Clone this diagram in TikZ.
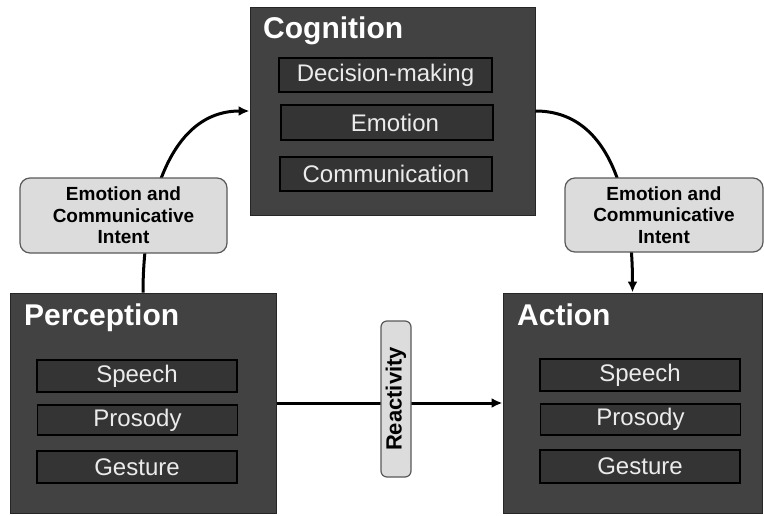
\documentclass[tikz,border=0pt]{standalone}
\usepackage{fontspec}
\setmainfont{Liberation Sans}
\usetikzlibrary{arrows.meta}

\definecolor{blockgray}{RGB}{66,66,66}
\definecolor{subgray}{RGB}{52,52,52}
\definecolor{intentgray}{RGB}{220,220,220}

\begin{document}
\begin{tikzpicture}[x=1pt,y=1pt,
    block/.style={draw=black!85,fill=blockgray,line width=1pt,inner sep=0pt},
    blocktitle/.style={anchor=base west,inner sep=0pt,text=white,font=\fontsize{30}{30}\selectfont\bfseries},
    subbox/.style={draw=black,fill=subgray,line width=1.5pt,inner sep=0pt,
        minimum width=200pt,minimum height=32pt,text=white!92!black,font=\fontsize{24}{24}\selectfont},
    heavy/.style={line width=2.6pt},
    intent/.style={draw=black!65,fill=intentgray,rounded corners=10pt,line width=1.2pt,
        align=center,inner sep=0pt,font=\fontsize{19}{21.5}\selectfont\bfseries},
    flow/.style={line width=3pt,-{Latex[length=11pt,width=10pt]}}]

\pgfmathsetmacro{\rowgap}{45}

\useasboundingbox (0,0) rectangle (764,-515);

% Cognition block:
\node[block,minimum width=285pt,minimum height=208pt] (cog) at (392.5,-111) {};
\node[blocktitle] (cogtitle) at (263,-38) {Cognition};
\node[subbox,minimum width=213pt,minimum height=34pt] (decide) at (385.5,-75) {Decision-making};
\node[subbox,minimum width=212pt,minimum height=35pt] (emo) at (387,-122.5) {\hspace{16pt}Emotion};
\node[subbox,minimum width=212pt,minimum height=34pt] (comm) at (386,-174) {Communication};

% Perception block:
\node[block,minimum width=266pt,minimum height=220pt] (perc) at (143,-403) {};
\node[blocktitle] (perctitle) at (24,-325) {Perception};
\node[subbox,heavy] (pspeech) at (137,-376) {Speech};
\node[subbox,minimum height=30pt] (pprosody) at (137.5,-376-\rowgap+1) {Prosody};
\node[subbox,heavy] (pgesture) at (137,-376-2*\rowgap-1) {Gesture};

% Action block:
\node[block,minimum width=259pt,minimum height=220pt] (act) at (632.5,-403) {};
\node[blocktitle] (acttitle) at (517,-325) {Action};
\node[subbox,heavy] (aspeech) at (640,-375) {Speech};
\node[subbox,minimum height=31pt] (aprosody) at (640.5,-375-\rowgap+0.5) {Prosody};
\node[subbox,heavy,minimum height=33pt] (agesture) at (640,-375-2*\rowgap+-1.5) {Gesture};

% Connectors (drawn before the labels that sit on them):
\draw[flow] (perc.north) to[out=90,in=180] (cog.west);
\draw[flow] (cog.east) to[out=0,in=90] (act.north);
\draw[flow] (perc.east) -- (act.west);

% Labels:
\node[intent,minimum width=207pt,minimum height=75pt] (intentleft) at (123.5,-215.5) {Emotion and\\Communicative\\Intent};
\node[intent,minimum width=198pt,minimum height=74pt] (intentright) at (664,-215) {Emotion and\\Communicative\\Intent};
\node[intent,rotate=90,minimum width=156pt,minimum height=30pt,rounded corners=6pt,
    font=\fontsize{22}{22}\selectfont\bfseries] (react) at (396,-399) {Reactivity};

\end{tikzpicture}
\end{document}
